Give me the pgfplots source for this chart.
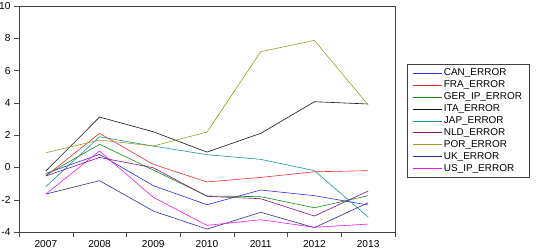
\documentclass[border=0pt]{standalone}
\usepackage{pgfplots}
\pgfplotsset{compat=1.18}
\usepackage{fontspec}
\setmainfont{Liberation Sans}

\definecolor{canblue}{RGB}{45,45,235}
\definecolor{frared}{RGB}{240,45,45}
\definecolor{gergreen}{RGB}{20,140,20}
\definecolor{itablack}{RGB}{20,20,20}
\definecolor{japteal}{RGB}{20,150,150}
\definecolor{nldpurple}{RGB}{130,20,130}
\definecolor{porolive}{RGB}{155,155,30}
\definecolor{uknavy}{RGB}{45,45,140}
\definecolor{usmagenta}{RGB}{245,20,245}

\begin{document}
\begin{tikzpicture}
\begin{axis}[
  at={(0,0)}, anchor=south west,
  scale only axis,
  width=376bp, height=226bp,
  xmin=2006.5, xmax=2013.5,
  ymin=-4, ymax=10,
  xtick={2007,...,2013},
  minor xtick={2006.5,2007.5,...,2013.5},
  ytick={-4,-2,...,10},
  xtick pos=bottom, ytick pos=left,
  tick align=outside,
  major tick length=5bp,
  minor tick length=5bp,
  major x tick style={draw=none},
  minor x tick style={black!70},
  y tick style={black!70},
  axis line style={black!75, line width=0.7bp},
  /pgf/number format/assume math mode=true,
  /pgf/number format/set thousands separator={},
  tick label style={font=\fontsize{10.2}{12}\selectfont},
  every axis plot/.append style={line width=0.6bp, mark=none},
  legend style={
    at={(388bp,168bp)}, anchor=north west,
    legend cell align=left,
    font=\fontsize{10}{12}\selectfont,
    draw=black!75, line width=0.6bp,
    inner xsep=5bp, inner ysep=3bp,
    nodes={inner xsep=2bp, inner ysep=1.1bp, text height=7.5bp, text depth=2.2bp},
    row sep=0bp,
    /tikz/every even column/.append style={column sep=6bp},
  },
  legend image code/.code={%
    \draw[mark repeat=2,mark phase=2,#1] plot coordinates {(0bp,0bp) (14.5bp,0bp) (29bp,0bp)};},
  legend image post style={line width=0.6bp},
  clip=false,
]
\addplot[color=canblue] coordinates {(2007,-0.37) (2008,0.81) (2009,-1.13) (2010,-2.31) (2011,-1.40) (2012,-1.75) (2013,-2.33)};
\addlegendentry{CAN\_ERROR}
\addplot[color=frared] coordinates {(2007,-0.53) (2008,2.11) (2009,0.19) (2010,-0.90) (2011,-0.62) (2012,-0.27) (2013,-0.20)};
\addlegendentry{FRA\_ERROR}
\addplot[color=gergreen] coordinates {(2007,-0.47) (2008,1.43) (2009,-0.16) (2010,-1.77) (2011,-1.81) (2012,-2.50) (2013,-1.75)};
\addlegendentry{GER\_IP\_ERROR}
\addplot[color=itablack] coordinates {(2007,-0.22) (2008,3.12) (2009,2.21) (2010,0.95) (2011,2.11) (2012,4.07) (2013,3.93)};
\addlegendentry{ITA\_ERROR}
\addplot[color=japteal] coordinates {(2007,-1.19) (2008,1.90) (2009,1.32) (2010,0.79) (2011,0.50) (2012,-0.20) (2013,-3.07)};
\addlegendentry{JAP\_ERROR}
\addplot[color=nldpurple] coordinates {(2007,-0.53) (2008,0.62) (2009,-0.02) (2010,-1.79) (2011,-1.94) (2012,-3.01) (2013,-1.46)};
\addlegendentry{NLD\_ERROR}
\addplot[color=porolive] coordinates {(2007,0.91) (2008,1.70) (2009,1.33) (2010,2.19) (2011,7.17) (2012,7.87) (2013,3.87)};
\addlegendentry{POR\_ERROR}
\addplot[color=uknavy] coordinates {(2007,-1.65) (2008,-0.82) (2009,-2.70) (2010,-3.82) (2011,-2.78) (2012,-3.73) (2013,-2.19)};
\addlegendentry{UK\_ERROR}
\addplot[color=usmagenta] coordinates {(2007,-1.65) (2008,1.02) (2009,-1.85) (2010,-3.59) (2011,-3.24) (2012,-3.71) (2013,-3.51)};
\addlegendentry{US\_IP\_ERROR}
\end{axis}
\pgfresetboundingbox
\path (-19bp,-20bp) rectangle (525bp,232bp);
\end{tikzpicture}
\end{document}
